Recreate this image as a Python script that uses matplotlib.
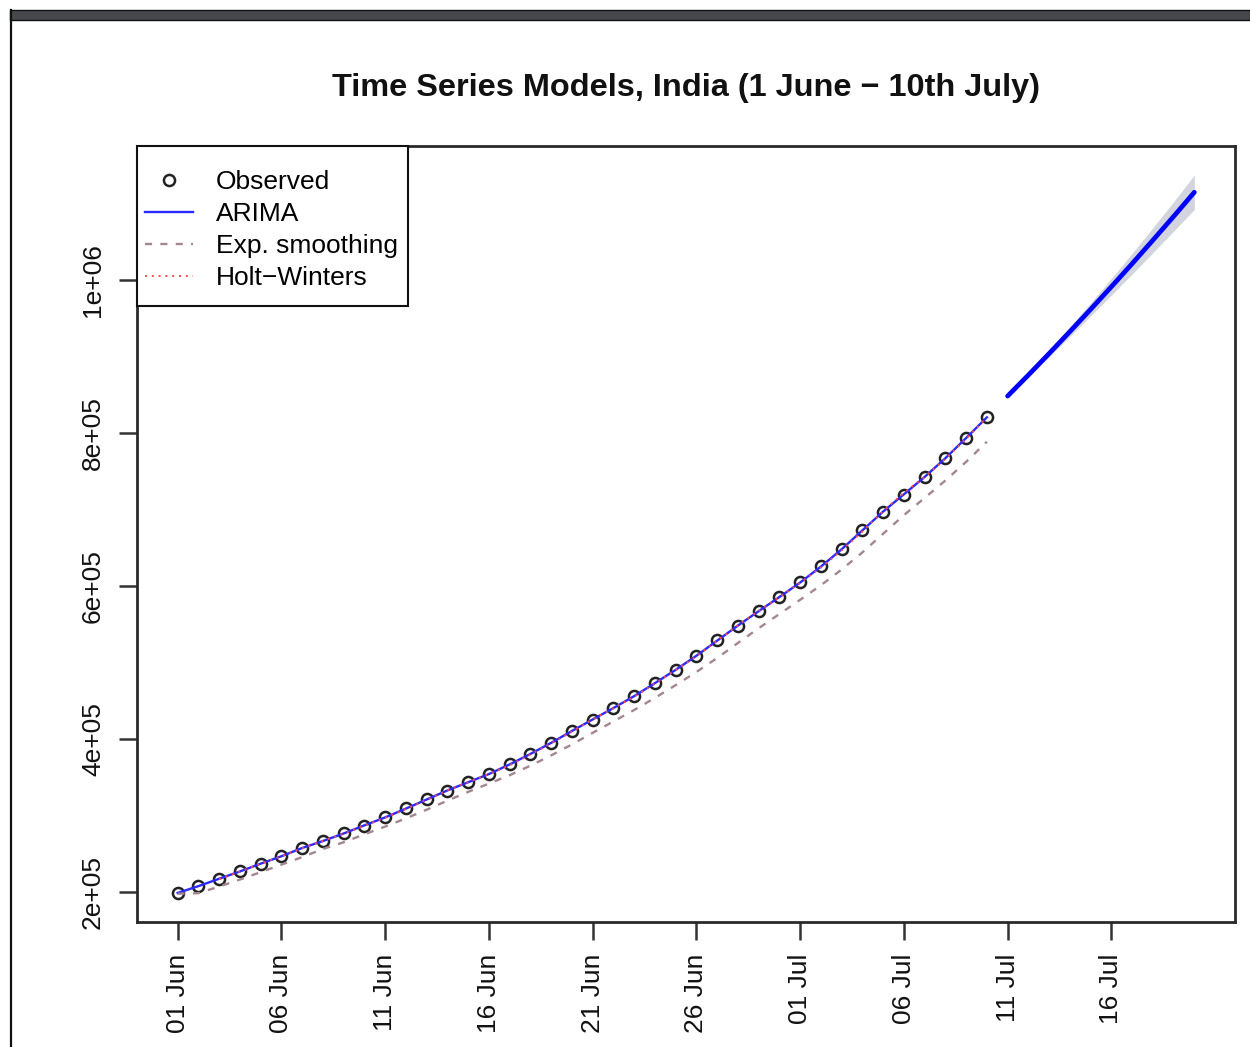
import numpy as np
import matplotlib
matplotlib.use('Agg')
from matplotlib import pyplot as plt
from matplotlib.patches import Rectangle
from matplotlib.lines import Line2D

plt.rcParams['font.family'] = ['Liberation Sans', 'DejaVu Sans']

# day index 0 = 01 Jun
obs_days = list(range(0, 40))
observed = [198706, 207615, 216919, 226770, 236657, 246628, 257486, 265928, 276583, 286579,
            297535, 308993, 320922, 332424, 343091, 354065, 366946, 380532, 395048, 410461,
            425282, 440215, 456183, 473105, 490401, 508953, 528859, 548318, 566840, 585481,
            604641, 625544, 648315, 673165, 697413, 719665, 742417, 767296, 793802, 820916]

arima_fit = [198500, 207400, 217100, 226600, 236800, 246500, 257300, 266400, 276300, 286900,
             297300, 308800, 320700, 332600, 343300, 354000, 366600, 380300, 394800, 410300,
             425400, 440300, 455900, 472900, 490300, 508700, 528500, 548200, 567000, 585500,
             604500, 625300, 648000, 672700, 697300, 719900, 742600, 767100, 793500, 820600]

ets_fit = [197500, 198200, 206900, 216000, 225700, 235500, 245400, 256000, 264800, 275200,
           285300, 296000, 307400, 319200, 330700, 341500, 352500, 365000, 378400, 392700,
           407900, 422800, 437800, 453600, 470300, 487500, 505800, 525400, 544700, 563300,
           581900, 600900, 621500, 643900, 668300, 692600, 715200, 737900, 762400, 788600]

hw_days = list(range(2, 40))
hw_fit = [216500, 226400, 236600, 246600, 256900, 266800, 275900, 286600,
          296800, 308300, 320300, 332600, 343500, 354000, 365500, 379600, 394000, 409400,
          425600, 440200, 455300, 472200, 490000, 508000, 528500, 548700, 567400, 585300,
          604100, 624100, 646600, 671300, 697800, 721900, 742600, 766200, 792500, 820400]

fc_days = list(range(40, 50))
fc_mean = [848400, 875900, 904000, 932700, 961800, 991400, 1021500, 1052200, 1083300, 1115000]
fc_lower = [847500, 873500, 899800, 926400, 953300, 980500, 1008000, 1035900, 1064000, 1092500]
fc_upper = [849300, 878300, 908200, 939000, 970300, 1002300, 1035000, 1068500, 1102600, 1137500]

xtick_days = [0, 5, 10, 15, 20, 25, 30, 35, 40, 45]
xtick_labels = ['01 Jun', '06 Jun', '11 Jun', '16 Jun', '21 Jun', '26 Jun',
                '01 Jul', '06 Jul', '11 Jul', '16 Jul']
ytick_vals = [200000, 400000, 600000, 800000, 1000000]
ytick_labels = ['2e+05', '4e+05', '6e+05', '8e+05', '1e+06']

W, H = 1250, 1047
fig = plt.figure(figsize=(W / 100, H / 100), dpi=100)
ax = fig.add_axes([137 / W, (H - 922) / H, (1235 - 137) / W, (922 - 146) / H])

# page frame (screenshot border)
fig.add_artist(Rectangle((10 / W, (H - 20) / H), (W - 10) / W, 10 / H, transform=fig.transFigure,
                         facecolor='#46484c', edgecolor='#111111', linewidth=1))
fig.add_artist(Line2D([11 / W, 11 / W], [0, (H - 10) / H], transform=fig.transFigure,
                      color='#111111', linewidth=1.6))

# forecast band and line
ax.fill_between(fc_days, fc_lower, fc_upper, color='#d2d5dd', linewidth=0, zorder=1)
ax.plot(fc_days, fc_mean, color='blue', linewidth=3.4, solid_capstyle='round', zorder=5)

# observed and fitted
ax.plot(obs_days, observed, linestyle='none', marker='o', markersize=8, markerfacecolor='none',
        markeredgecolor='#222222', markeredgewidth=1.8, zorder=2)
ax.plot(obs_days, arima_fit, color='#2b2bff', linewidth=1.7, zorder=3)
ax.plot(obs_days, ets_fit, color='#a3868f', linewidth=1.7, dashes=(3, 3.5), zorder=3)
ax.plot(hw_days, hw_fit, color='#ff4a4a', linewidth=1.4, dashes=(1, 2.5), zorder=4)

ax.set_xlim(-1.96, 50.96)
ax.set_ylim(160500, 1175500)

ax.set_xticks(xtick_days)
ax.set_xticklabels(xtick_labels, rotation=90, fontsize=19, color='#111111')
ax.set_yticks(ytick_vals)
ax.set_yticklabels(ytick_labels, rotation=90, va='center', fontsize=19, color='#111111')
ax.tick_params(axis='both', direction='out', length=13, width=1.8, color='#333333', pad=10)
for s in ax.spines.values():
    s.set_linewidth(2.0)
    s.set_color('#2a2a2a')

ax.set_title('Time Series Models, India (1 June \u2212 10th July)', fontsize=23.4,
             fontweight='bold', pad=36, color='#111111')

# legend box
ax.add_patch(Rectangle((0, 1 - (306 - 146) / 776), (408 - 137) / 1098, (306 - 146) / 776,
                       transform=ax.transAxes, facecolor='white', edgecolor='#111111',
                       linewidth=1.5, zorder=6, clip_on=False))
handles = [
    Line2D([], [], linestyle='none', marker='o', markersize=8, markerfacecolor='none',
           markeredgecolor='#222222', markeredgewidth=1.8),
    Line2D([], [], color='#2b2bff', linewidth=1.7),
    Line2D([], [], color='#a3868f', linewidth=1.7, dashes=(3, 3.5)),
    Line2D([], [], color='#ff4a4a', linewidth=1.4, dashes=(1, 2.5)),
]
leg = ax.legend(handles, ['Observed', 'ARIMA', 'Exp. smoothing', 'Holt\u2212Winters'],
                loc='upper left', bbox_to_anchor=(8 / 1098, 1 - 24 / 776), borderaxespad=0,
                borderpad=0, frameon=False, fontsize=19, handlelength=1.82, handletextpad=0.87,
                labelspacing=0.3)
leg.set_zorder(7)

fig.savefig('out.png', dpi=100)
